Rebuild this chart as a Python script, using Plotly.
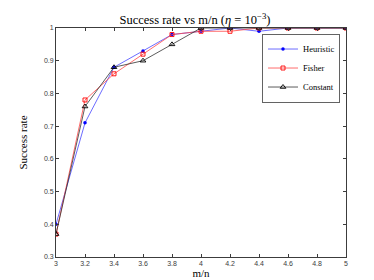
import plotly.graph_objects as go

x = [3.0, 3.2, 3.4, 3.6, 3.8, 4.0, 4.2, 4.4, 4.6, 4.8, 5.0]
heuristic = [0.40, 0.71, 0.88, 0.93, 0.98, 0.99, 1.00, 0.99, 1.00, 1.00, 1.00]
fisher = [0.37, 0.78, 0.86, 0.92, 0.98, 0.99, 0.99, 1.00, 1.00, 1.00, 1.00]
constant = [0.37, 0.76, 0.88, 0.90, 0.95, 1.00, 1.00, 1.00, 1.00, 1.00, 1.00]
x_ticks = [3, 3.2, 3.4, 3.6, 3.8, 4, 4.2, 4.4, 4.6, 4.8, 5]
y_ticks = [0.3, 0.4, 0.5, 0.6, 0.7, 0.8, 0.9, 1.0]

fig = go.Figure()
fig.add_trace(go.Scatter(x=x, y=heuristic, name="Heuristic", mode="lines+markers",
                         line=dict(color="rgb(70,70,255)", width=0.8),
                         marker=dict(symbol="circle", size=3.5, color="blue")))
fig.add_trace(go.Scatter(x=x, y=fisher, name="Fisher", mode="lines+markers",
                         line=dict(color="rgb(255,70,70)", width=0.8),
                         marker=dict(symbol="square-open", size=4, color="red", line=dict(width=0.9))))
fig.add_trace(go.Scatter(x=x, y=constant, name="Constant", mode="lines+markers",
                         line=dict(color="rgb(50,50,50)", width=0.8),
                         marker=dict(symbol="triangle-up-open", size=5, color="black", line=dict(width=0.9))))

axis_common = dict(showgrid=False, zeroline=False, showline=True, linecolor="rgb(60,60,60)",
                   linewidth=0.8, mirror="ticks", ticks="inside", ticklen=3, tickcolor="rgb(60,60,60)",
                   tickfont=dict(family="Liberation Sans", size=7, color="rgb(60,60,60)"))

fig.update_layout(
    width=374, height=280,
    margin=dict(l=48, r=36, t=20, b=31),
    paper_bgcolor="white", plot_bgcolor="white",
    title=dict(text="Success rate vs m/n (<i>η</i> = 10<sup>−3</sup>)", x=0.5, xanchor="center",
               y=0.975, yanchor="top",
               font=dict(family="Liberation Serif", size=12.5, color="black")),
    xaxis=dict(range=[3, 5], tickvals=x_ticks, ticktext=[f"{v:g}" for v in x_ticks],
               title=dict(text="m/n", font=dict(family="Liberation Serif", size=11, color="black"), standoff=1),
               **axis_common),
    yaxis=dict(range=[0.3, 1.0], tickvals=y_ticks, ticktext=[f"{v:g}" for v in y_ticks],
               title=dict(text="Success rate", font=dict(family="Liberation Serif", size=11, color="black"), standoff=14),
               **axis_common),
    legend=dict(x=0.98, y=0.975, xanchor="right", yanchor="top", bgcolor="white",
                bordercolor="rgb(60,60,60)", borderwidth=0.8,
                font=dict(family="Liberation Serif", size=8.5, color="black"),
                tracegroupgap=0, itemwidth=30),
    showlegend=True,
)

fig.write_html("out.html")
